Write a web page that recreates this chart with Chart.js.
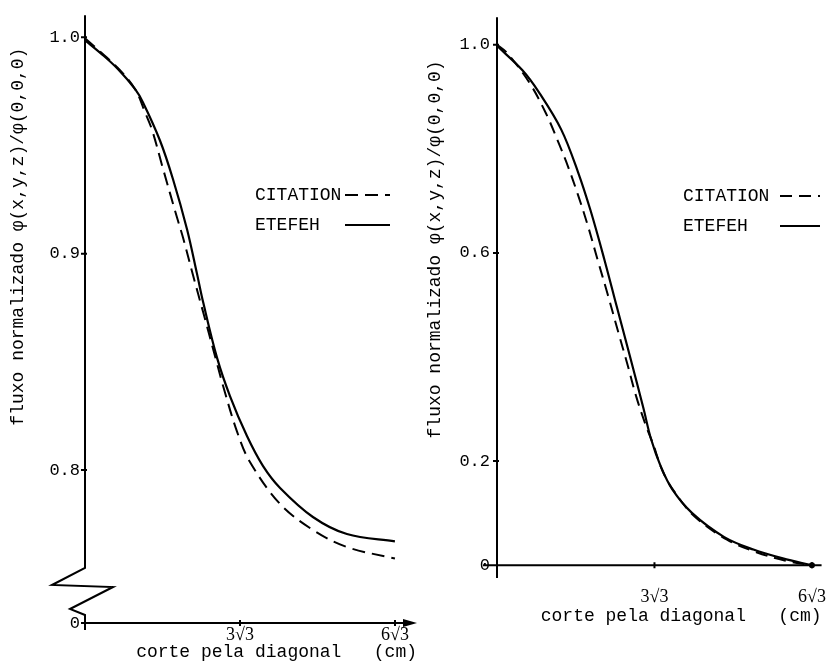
<!DOCTYPE html>
<html>
<head>
<meta charset="utf-8">
<script src="https://cdn.jsdelivr.net/npm/chart.js@4"></script>
<style>
    html, body { margin: 0; padding: 0; background: #fff; }
    #caixaEsquerda { position: absolute; left: 0; top: 0; width: 420px; height: 668px; }
    #caixaDireita { position: absolute; left: 420px; top: 0; width: 414px; height: 668px; }
</style>
</head>
<body>
<div id="caixaEsquerda"><canvas id="graficoEsquerda"></canvas></div>
<div id="caixaDireita"><canvas id="graficoDireita"></canvas></div>
<script>
// posicoes no corte pela diagonal (cm)
const xTicks = [3 * Math.sqrt(3), 6 * Math.sqrt(3)];
const xTickLabels = ['3√3', '6√3'];

// painel da esquerda (eixo y quebrado)
const yTicksEsq = [0.7293, 0.8, 0.9, 1.0];
const yTickLabelsEsq = ['0', '0.8', '0.9', '1.0'];
const xEsqCitation = [0, 0.57, 1.11, 1.68, 2.01, 2.25, 2.61, 3.08, 3.29, 3.62, 3.96, 4.43, 4.63, 5.10, 5.53, 6.54, 7.64, 8.78, 10.39];
const yEsqCitation = [0.9995, 0.9926, 0.9857, 0.9760, 0.9654, 0.9571, 0.9395, 0.9169, 0.9072, 0.8901, 0.8730, 0.8490, 0.8388, 0.8176, 0.8037, 0.7843, 0.7723, 0.7644, 0.7591];
const xEsqEtefeh = [0, 0.57, 1.11, 1.68, 1.94, 2.51, 2.95, 3.42, 3.75, 3.96, 4.43, 4.86, 5.43, 5.97, 6.54, 7.64, 8.78, 10.39];
const yEsqEtefeh = [0.9986, 0.9921, 0.9852, 0.9760, 0.9700, 0.9524, 0.9344, 0.9113, 0.8910, 0.8776, 0.8517, 0.8342, 0.8157, 0.8018, 0.7917, 0.7783, 0.7704, 0.7670];

// painel da direita
const yTicksDir = [0, 0.2, 0.6, 1.0];
const yTickLabelsDir = ['0', '0.2', '0.6', '1.0'];
const xDirCitation = [0, 0.32, 1.06, 1.61, 2.03, 2.35, 2.67, 2.99, 3.31, 3.64, 4.02, 4.28, 4.60, 4.92, 5.15, 5.47, 5.89, 6.53, 7.59, 8.56, 9.49, 10.39];
const yDirCitation = [1.0, 0.985, 0.928, 0.869, 0.812, 0.765, 0.712, 0.654, 0.589, 0.523, 0.444, 0.391, 0.323, 0.267, 0.233, 0.180, 0.138, 0.093, 0.049, 0.025, 0.009, 0];
const xDirEtefeh = [0, 0.84, 1.38, 2.12, 2.67, 3.09, 3.54, 3.96, 4.38, 4.83, 5.08, 5.41, 5.79, 6.44, 7.50, 8.46, 9.43, 10.39];
const yDirEtefeh = [0.998, 0.951, 0.909, 0.837, 0.756, 0.681, 0.588, 0.495, 0.403, 0.302, 0.243, 0.189, 0.145, 0.100, 0.054, 0.030, 0.013, 0];

const fonteMono = 'Liberation Mono';
const fonteSerif = 'Liberation Serif';

function pontos(xs, ys) {
    return xs.map((x, i) => ({ x: x, y: ys[i] }));
}

// desenha os eixos a mao (quebra, seta, marcas)
const eixos = {
    id: 'eixos',
    beforeDatasetsDraw(chart, args, opts) {
        const ctx = chart.ctx;
        const sx = chart.scales.x;
        const sy = chart.scales.y;
        const area = chart.chartArea;
        const x0 = sx.getPixelForValue(0);
        const y0 = sy.getPixelForValue(opts.yBase);
        ctx.save();
        ctx.strokeStyle = '#000';
        ctx.fillStyle = '#000';
        ctx.lineWidth = 2;
        ctx.beginPath();
        if (opts.quebra) {
            ctx.moveTo(x0, area.top);
            ctx.lineTo(x0, y0 - 55);
            ctx.lineTo(x0 - 33, y0 - 38);
            ctx.lineTo(x0 + 28, y0 - 36);
            ctx.lineTo(x0 - 15, y0 - 14);
            ctx.lineTo(x0, y0 - 8);
            ctx.lineTo(x0, y0 + 7);
        } else {
            ctx.moveTo(x0, area.top);
            ctx.lineTo(x0, area.bottom);
        }
        ctx.moveTo(x0 - opts.xAntes, y0);
        ctx.lineTo(area.right - (opts.seta ? 10 : 0), y0);
        sy.ticks.forEach(t => {
            const y = sy.getPixelForValue(t.value);
            ctx.moveTo(x0 - 4, y);
            ctx.lineTo(x0 + 2, y);
        });
        sx.ticks.forEach(t => {
            const x = sx.getPixelForValue(t.value);
            ctx.moveTo(x, y0 - 3);
            ctx.lineTo(x, y0 + 3);
        });
        ctx.stroke();
        if (opts.seta) {
            ctx.beginPath();
            ctx.moveTo(area.right, y0);
            ctx.lineTo(area.right - 14, y0 - 4);
            ctx.lineTo(area.right - 14, y0 + 4);
            ctx.closePath();
            ctx.fill();
        } else {
            ctx.beginPath();
            ctx.arc(sx.getPixelForValue(xTicks[1]), y0, 3, 0, Math.PI * 2);
            ctx.fill();
        }
        ctx.restore();
    }
};

// legenda: texto e depois a amostra da linha
const legenda = {
    id: 'legenda',
    afterDraw(chart, args, opts) {
        const ctx = chart.ctx;
        ctx.save();
        ctx.font = '18px "' + fonteMono + '"';
        ctx.textBaseline = 'middle';
        ctx.fillStyle = '#000';
        ctx.strokeStyle = '#000';
        chart.data.datasets.forEach((ds, i) => {
            const y = opts.y + i * opts.passo;
            ctx.fillText(ds.label, opts.x, y);
            ctx.beginPath();
            ctx.setLineDash(ds.borderDash || []);
            ctx.lineWidth = ds.borderWidth;
            ctx.moveTo(opts.linhaInicio, y);
            ctx.lineTo(opts.linhaFim, y);
            ctx.stroke();
        });
        ctx.restore();
    }
};

function montaGrafico(id, series, cfg) {
    return new Chart(document.getElementById(id).getContext('2d'), {
        type: 'line',
        data: {
            datasets: [{
                    label: 'CITATION',
                    data: series.citation,
                    borderColor: '#000',
                    borderWidth: 2,
                    borderDash: cfg.traco,
                    tension: 0.35,
                    pointRadius: 0,
                    fill: false
                },
                {
                    label: 'ETEFEH',
                    data: series.etefeh,
                    borderColor: '#000',
                    borderWidth: 2.2,
                    tension: 0.35,
                    pointRadius: 0,
                    fill: false
                }
            ]
        },
        options: {
            responsive: true,
            maintainAspectRatio: false,
            animation: false,
            layout: {
                padding: { top: cfg.topo, right: cfg.direita, left: 0, bottom: 0 }
            },
            scales: {
                x: {
                    type: 'linear',
                    min: 0,
                    max: cfg.xMax,
                    afterBuildTicks: function (scale) {
                        scale.ticks = xTicks.map(v => ({ value: v }));
                    },
                    afterFit: function (scale) {
                        scale.height = cfg.xAltura;
                    },
                    grid: { display: false, drawTicks: false },
                    border: { display: false },
                    ticks: {
                        color: '#000',
                        autoSkip: false,
                        maxRotation: 0,
                        padding: cfg.xPad,
                        callback: function (value, index) {
                            return xTickLabels[index];
                        },
                        font: { family: fonteSerif, size: 18 }
                    },
                    title: {
                        display: true,
                        text: 'corte pela diagonal   (cm)',
                        align: 'end',
                        color: '#000',
                        padding: { top: 0, bottom: cfg.xTituloPad },
                        font: { family: fonteMono, size: 18 }
                    }
                },
                y: {
                    type: 'linear',
                    min: cfg.yMin,
                    max: cfg.yMax,
                    afterBuildTicks: function (scale) {
                        scale.ticks = cfg.yTicks.map(v => ({ value: v }));
                    },
                    afterFit: function (scale) {
                        scale.width = cfg.yLargura;
                    },
                    grid: { display: false, drawTicks: false },
                    border: { display: false },
                    ticks: {
                        color: '#000',
                        padding: cfg.yPad,
                        callback: function (value, index) {
                            return cfg.yTickLabels[index];
                        },
                        font: { family: fonteMono, size: 17 }
                    },
                    title: {
                        display: true,
                        // espacos no fim empurram o titulo para baixo, como no original
                        text: 'fluxo normalizado φ(x,y,z)/φ(0,0,0)' + cfg.yTituloRecuo,
                        align: 'end',
                        color: '#000',
                        padding: { top: cfg.yTituloPad, bottom: 0 },
                        font: { family: fonteMono, size: 18 }
                    }
                }
            },
            plugins: {
                legend: { display: false },
                tooltip: { enabled: false },
                eixos: cfg.eixos,
                legenda: cfg.legenda
            }
        },
        plugins: [eixos, legenda]
    });
}

const graficoEsquerda = montaGrafico('graficoEsquerda', {
    citation: pontos(xEsqCitation, yEsqCitation),
    etefeh: pontos(xEsqEtefeh, yEsqEtefeh)
}, {
    traco: [13, 7],
    topo: 15,
    direita: 3,
    xMax: 11.13,
    xAltura: 45,
    xPad: 1,
    xTituloPad: 5,
    yMin: 0.7293,
    yMax: 1.0102,
    yTicks: yTicksEsq,
    yTickLabels: yTickLabelsEsq,
    yLargura: 85,
    yPad: 5,
    yTituloPad: 7,
    yTituloRecuo: '   ',
    eixos: { yBase: 0.7293, quebra: true, seta: true, xAntes: 0 },
    legenda: { x: 255, y: 195, passo: 30, linhaInicio: 345, linhaFim: 390 }
});

const graficoDireita = montaGrafico('graficoDireita', {
    citation: pontos(xDirCitation, yDirCitation),
    etefeh: pontos(xDirEtefeh, yDirEtefeh)
}, {
    traco: [12, 7],
    topo: 8,
    direita: 4,
    xMax: 10.71,
    xAltura: 90,
    xPad: 8,
    xTituloPad: 41,
    yMin: -0.0246,
    yMax: 1.053,
    yTicks: yTicksDir,
    yTickLabels: yTickLabelsDir,
    yLargura: 77,
    yPad: 7,
    yTituloPad: 4,
    yTituloRecuo: '    ',
    eixos: { yBase: 0, quebra: false, seta: false, xAntes: 14 },
    legenda: { x: 263, y: 196, passo: 30, linhaInicio: 360, linhaFim: 400 }
});
</script>
</body>
</html>
